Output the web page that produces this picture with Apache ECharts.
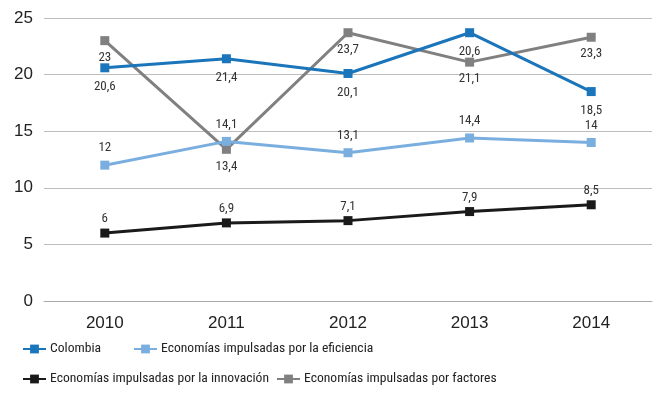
<!DOCTYPE html>
<html><head><meta charset="utf-8">
<script src="https://cdn.jsdelivr.net/npm/echarts@6/dist/echarts.min.js"></script>
<style>html,body{margin:0;padding:0;background:#fff}#c{width:660px;height:393px}</style>
</head><body><div id="c"></div>
<script>
var years = ["2010","2011","2012","2013","2014"];
var colombia = [20.6, 21.4, 20.1, 23.7, 18.5];
var colombiaLabels = ["20,6","21,4","20,1","20,6","18,5"];
var eficiencia = [12, 14.1, 13.1, 14.4, 14];
var eficienciaLabels = ["12","14,1","13,1","14,4","14"];
var innovacion = [6, 6.9, 7.1, 7.9, 8.5];
var innovacionLabels = ["6","6,9","7,1","7,9","8,5"];
var factores = [23, 13.4, 23.7, 21.1, 23.3];
var factoresLabels = ["23","13,4","23,7","21,1","23,3"];
var names = ["Colombia","Economías impulsadas por la eficiencia","Economías impulsadas por la innovación","Economías impulsadas por factores"];

var FONT = "'Roboto Condensed', 'DejaVu Sans Condensed', sans-serif";
function mk(name, data, labels, color, pos, dist, z){
  return {
    name: name, type: 'line', data: data, z: z,
    symbol: 'rect', symbolSize: 9,
    lineStyle: {color: color, width: 3},
    itemStyle: {color: color},
    label: {show: true, position: pos, distance: dist, fontFamily: FONT, fontSize: 13, color: '#333',
      formatter: function(p){ return labels[p.dataIndex]; }}
  };
}
function lg(name, left, top){
  return {data:[name], left:left, top:top, itemWidth:23, itemHeight:11, itemGap:0,
    textStyle:{fontFamily:FONT, fontSize:13.6, color:'#222', padding:[0,0,0,-1]}, padding:0};
}
var chart = echarts.init(document.getElementById('c'));
chart.setOption({
  animation: false,
  grid: {left: 44, right: 8, top: 18, bottom: 92},
  legend: [lg(names[0], 22, 342), lg(names[1], 133, 342), lg(names[2], 22, 372), lg(names[3], 276, 372)],
  xAxis: {type: 'category', data: years,
    axisLine: {lineStyle: {color: '#aaa', width: 1}},
    axisTick: {alignWithLabel: true, inside: true, length: 7, lineStyle: {color: '#555'}},
    axisLabel: {fontFamily: 'Liberation Sans', fontSize: 17, color: '#222', margin: 14}},
  yAxis: {type: 'value', min: 0, max: 25, interval: 5,
    axisLine: {show: false}, axisTick: {show: false},
    splitLine: {lineStyle: {color: '#bdbdbd', width: 1}},
    axisLabel: {fontFamily: 'Liberation Sans', fontSize: 17, color: '#222', margin: 11}},
  series: [
    mk(names[3], factores, factoresLabels, '#808080', 'bottom', 6, 2),
    mk(names[2], innovacion, innovacionLabels, '#1a1a1a', 'top', 3, 3),
    mk(names[1], eficiencia, eficienciaLabels, '#7aaedf', 'top', 6, 4),
    mk(names[0], colombia, colombiaLabels, '#1b75bb', 'bottom', 8, 5)
  ]
});
</script></body></html>
